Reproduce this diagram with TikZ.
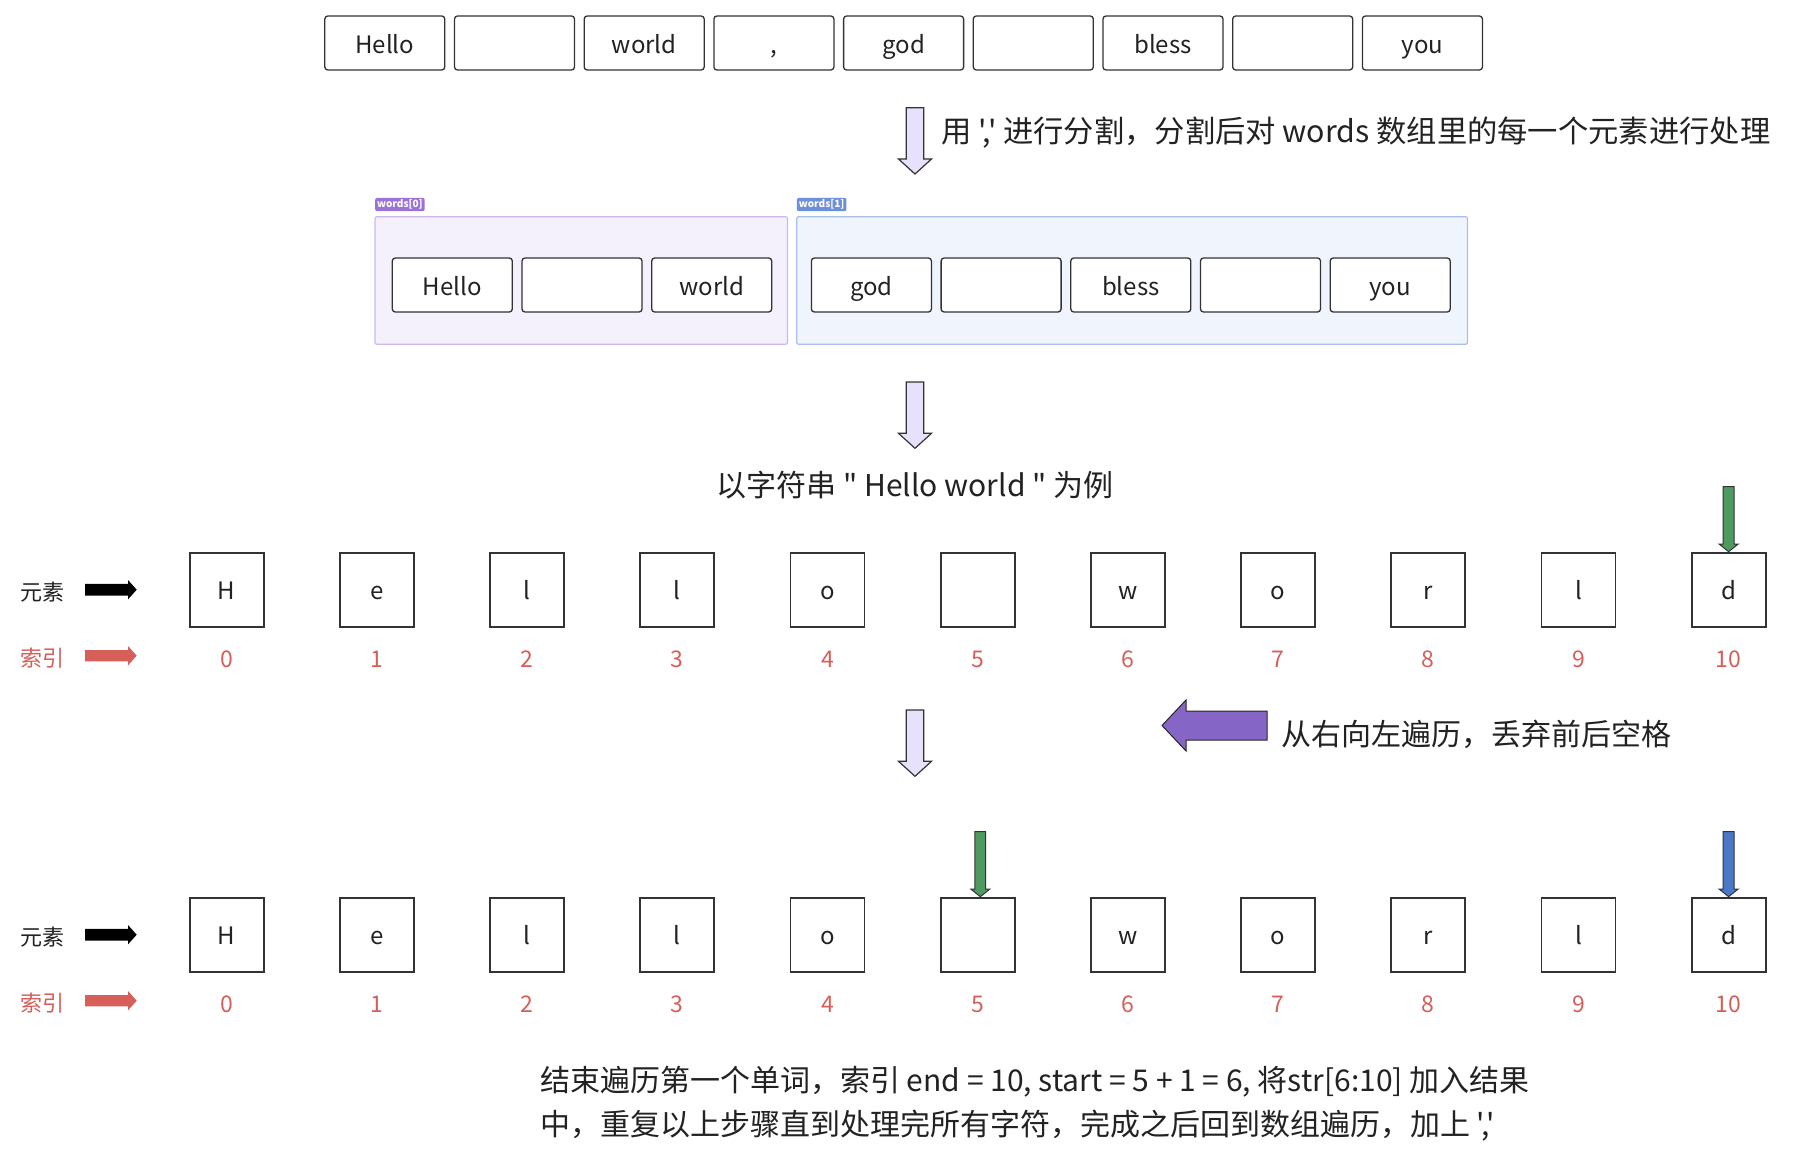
\documentclass[tikz,border=0pt]{standalone}
\usepackage{fontspec}
\newfontfamily\cjk{Noto Sans CJK SC}
\definecolor{txt}{HTML}{222222}
\definecolor{boxline}{HTML}{333333}
\definecolor{gAfill}{HTML}{F4F0FC}
\definecolor{gAline}{HTML}{CDB8EC}
\definecolor{gBfill}{HTML}{F0F4FC}
\definecolor{gBline}{HTML}{A9C0EE}
\definecolor{tagA}{HTML}{9B72D8}
\definecolor{tagB}{HTML}{6E8FD9}
\definecolor{hollow}{HTML}{E8E1FC}
\definecolor{purp}{HTML}{8566C6}
\definecolor{grn}{HTML}{4E9A60}
\definecolor{blu}{HTML}{4A78C9}
\definecolor{redx}{HTML}{D65F5A}
\tikzset{
  wbox/.style={draw=boxline, line width=1.3pt, rounded corners=3pt, fill=white,
    minimum width=120pt, minimum height=54pt, inner sep=0pt, text=txt,
    text height=21pt, text depth=0pt,
    font=\cjk\fontsize{24}{28}\selectfont},
  cbox/.style={draw=boxline, line width=1.8pt, fill=white,
    minimum width=74pt, minimum height=74pt, inner sep=0pt, text=txt,
    text height=19.5pt, text depth=0pt,
    font=\cjk\fontsize{24}{28}\selectfont},
  idx/.style={text=redx, inner sep=0pt, text height=18.3pt, text depth=0pt,
    font=\cjk\fontsize{23}{27}\selectfont},
  lab/.style={inner sep=0pt, anchor=west, font=\cjk\fontsize{22}{26}\selectfont},
  big/.style={inner sep=0pt, text=txt, font=\cjk\fontsize{30}{44}\selectfont},
  tagbox/.style={anchor=north west, inner xsep=2pt, inner ysep=0pt, rounded corners=2pt,
    minimum width=43.3pt, minimum height=13.3pt, text=white,
    font=\cjk\fontsize{10}{11}\selectfont\bfseries},
  holl/.style={draw=boxline, line width=1.2pt, fill=hollow, line join=miter},
}
\newcommand\ptrarrow[3]{% x, top y, colour
  \draw[draw=black!80, fill=#3, line width=1pt]
    (#1-5.4,#2) -- (#1+5.4,#2) -- (#1+5.4,#2+57.3) -- (#1+9.6,#2+57.3)
    -- (#1,#2+65) -- (#1-9.6,#2+57.3) -- (#1-5.4,#2+57.3) -- cycle;}
\begin{document}
\begin{tikzpicture}[x=1pt,y=-1pt]
\useasboundingbox[fill=white] (0,0) rectangle (1793,1158);

% top row of words
\foreach \t [count=\i from 0] in {Hello,{},world,{,},god,{},bless,{},you}{
  \node[wbox] (top\i) at (384.8+129.7*\i,43) {\t};
}

% hollow down arrows
\foreach \yy [count=\k] in {107.7,382,710}{
  \draw[holl] (906.2,\yy) -- (923.8,\yy) -- (923.8,\yy+51.3) -- (931.5,\yy+51.3)
     -- (915,\yy+66.3) -- (898.5,\yy+51.3) -- (906.2,\yy+51.3) -- cycle;
}
\node[big, anchor=west, font=\cjk\fontsize{30.3}{44}\selectfont] (splittxt) at (941,132.5) {用 ',' 进行分割，分割后对 words 数组里的每一个元素进行处理};

% groups
\node[draw=gAline, fill=gAfill, line width=1.2pt, rounded corners=2pt,
  minimum width=412.5pt, minimum height=127.6pt] (g0) at (581.25,280.5) {};
\node[draw=gBline, fill=gBfill, line width=1.2pt, rounded corners=2pt,
  minimum width=670.8pt, minimum height=127.6pt] (g1) at (1132.1,280.5) {};
\node[tagbox, fill=tagA] (tag0) at (375,197.7) {words[0]};
\node[tagbox, fill=tagB] (tag1) at (796.7,197.7) {words[1]};
\foreach \t [count=\i from 0] in {Hello,{},world}{
  \node[wbox] (a\i) at (452.3+129.7*\i,285) {\t};
}
\foreach \t [count=\i from 0] in {god,{},bless,{},you}{
  \node[wbox] (b\i) at (871.4+129.7*\i,285) {\t};
}

\node[big] (example) at (915,485) {以字符串 " Hello world " 为例};

% character rows
\foreach \yy/\r in {589.7/r,934.7/s}{
  \foreach \c [count=\i from 0] in {H,e,l,l,o,{},w,o,r,l,d}{
    \node[cbox] (\r\i) at (226.7+150.2*\i,\yy) {\c};
    \node[idx] (\r n\i) at (226.7+150.2*\i,\yy+68.5) {\i};
  }
  \node[lab, text=txt] (\r lab) at (20.7,\yy+2) {元素};
  \node[lab, text=redx] (\r ilab) at (20.7,\yy+68) {索引};
  \fill[black] (85,\yy-5.8) -- (128,\yy-5.8) -- (128,\yy-9.7) -- (136.7,\yy)
     -- (128,\yy+9.7) -- (128,\yy+5.8) -- (85,\yy+5.8) -- cycle;
  \fill[redx] (85,\yy+60.3) -- (128,\yy+60.3) -- (128,\yy+56.3) -- (136.7,\yy+66)
     -- (128,\yy+75.7) -- (128,\yy+71.7) -- (85,\yy+71.7) -- cycle;
}

% pointer arrows
\ptrarrow{1728.6}{486.7}{grn}
\ptrarrow{980.3}{831.7}{grn}
\ptrarrow{1728.6}{831.7}{blu}

% purple traversal arrow
\draw[draw=black!85, fill=purp, line width=1pt]
  (1267,711) -- (1186,711) -- (1186,700) -- (1162,725.5) -- (1186,751)
  -- (1186,740) -- (1267,740) -- cycle;
\node[big, anchor=west] (travtxt) at (1281,734) {从右向左遍历，丢弃前后空格};

\node[big, anchor=west, align=left] (endtxt) at (540,1103.5)
  {结束遍历第一个单词，索引 end = 10, start = 5 + 1 = 6, 将str[6:10] 加入结果\\
   中，重复以上步骤直到处理完所有字符，完成之后回到数组遍历，加上 ','};
\end{tikzpicture}
\end{document}
